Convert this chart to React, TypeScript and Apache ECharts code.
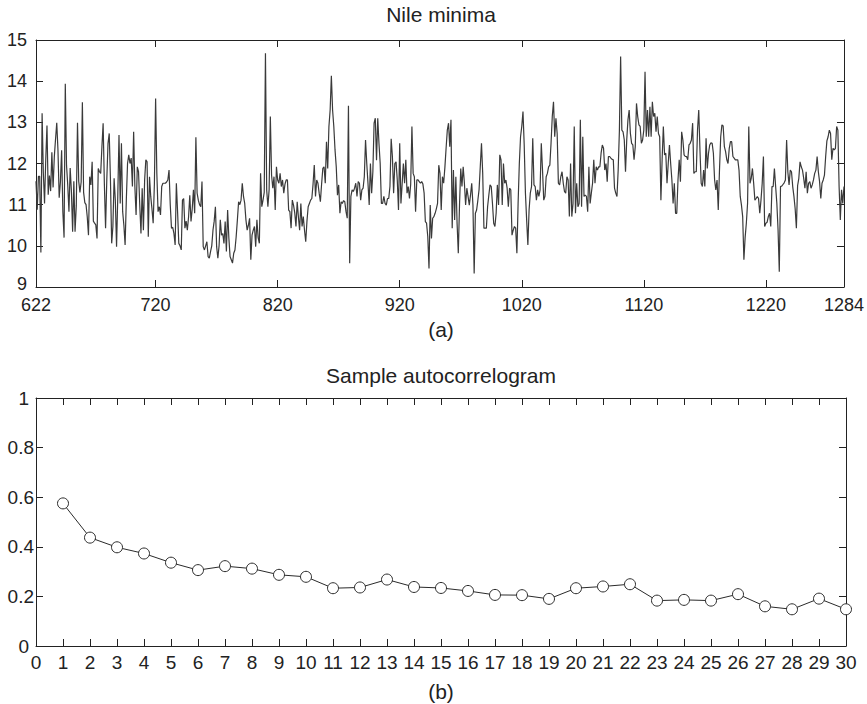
import React, { useEffect, useRef } from "react";
import * as echarts from "echarts";

const NILE_START = 622;
// Nile minima, one value per year from 622 to 1284 (rows of 10 years)
const nileMinima: number[] = [
  /* 622 */ 11.57, 10.88, 11.69, 11.69, 9.84, 13.22, 11.78, 11.03, 12.11, 12.92,
  /* 632 */ 11.24, 11.71, 11.33, 12.27, 11.42, 12.16, 12.59, 12.99, 12.32, 11.17,
  /* 642 */ 11.55, 12.32, 10.83, 10.2, 13.94, 11.96, 11.48, 10.83, 11.89, 11.33,
  /* 652 */ 10.34, 11.57, 10.34, 10.97, 12.99, 11.57, 11.3, 11.55, 13.49, 11.3,
  /* 662 */ 11.05, 11.0, 10.7, 10.26, 11.68, 11.48, 12.04, 10.6, 10.55, 10.51,
  /* 672 */ 10.18, 11.88, 11.8, 11.76, 12.4, 12.98, 11.52, 10.43, 11.6, 12.49,
  /* 682 */ 12.73, 11.6, 10.06, 10.47, 11.64, 11.1, 9.98, 11.2, 12.69, 11.03,
  /* 692 */ 12.49, 10.83, 10.5, 10.02, 11.11, 12.0, 12.21, 12.0, 12.13, 11.44,
  /* 702 */ 12.77, 11.44, 10.75, 11.92, 11.8, 11.0, 10.3, 11.4, 10.38, 11.6,
  /* 712 */ 12.09, 12.04, 10.22, 11.68, 11.2, 10.9, 10.55, 11.5, 13.58, 11.76,
  /* 722 */ 10.83, 10.95, 10.75, 11.44, 11.52, 11.52, 11.52, 11.55, 11.6, 11.84,
  /* 732 */ 11.0, 10.43, 10.45, 10.3, 10.02, 11.52, 10.83, 10.06, 10.0, 9.9,
  /* 742 */ 11.11, 11.15, 10.43, 10.6, 10.38, 10.7, 11.23, 10.59, 10.9, 11.36,
  /* 752 */ 10.79, 12.64, 11.28, 11.11, 11.0, 10.95, 11.56, 9.98, 9.9, 10.0,
  /* 762 */ 10.1, 9.74, 9.7, 9.86, 10.0, 10.38, 10.6, 10.95, 9.98, 9.7,
  /* 772 */ 10.0, 10.63, 10.26, 10.3, 10.06, 10.59, 9.86, 10.87, 10.2, 9.74,
  /* 782 */ 9.66, 9.58, 9.82, 9.9, 10.22, 10.63, 11.07, 11.0, 11.11, 11.52,
  /* 792 */ 11.2, 11.03, 10.63, 10.38, 10.5, 10.67, 9.66, 10.26, 10.38, 10.47,
  /* 802 */ 9.98, 10.63, 10.2, 10.06, 11.76, 10.95, 11.11, 11.3, 14.68, 11.36,
  /* 812 */ 10.95, 11.36, 13.14, 11.72, 11.4, 11.68, 10.87, 11.92, 11.6, 11.52,
  /* 822 */ 11.76, 11.44, 11.6, 11.28, 11.5, 11.6, 11.6, 10.87, 10.83, 10.43,
  /* 832 */ 11.11, 10.99, 10.8, 10.47, 11.07, 10.7, 10.38, 11.03, 10.47, 10.71,
  /* 842 */ 10.38, 10.1, 10.6, 10.95, 11.03, 11.11, 11.15, 11.5, 11.96, 11.2,
  /* 852 */ 11.6, 11.52, 11.28, 11.07, 11.5, 11.88, 11.92, 11.52, 12.53, 11.88,
  /* 862 */ 12.9, 13.3, 14.13, 13.3, 12.9, 12.33, 11.92, 11.23, 11.48, 10.79,
  /* 872 */ 11.07, 11.03, 11.1, 11.07, 10.83, 10.67, 13.4, 9.58, 11.2, 11.36,
  /* 882 */ 11.32, 11.4, 11.52, 11.2, 11.56, 11.52, 11.11, 11.36, 11.4, 11.68,
  /* 892 */ 12.57, 12.0, 11.52, 10.99, 12.0, 11.28, 11.8, 12.98, 13.1, 12.08,
  /* 902 */ 13.1, 12.49, 12.0, 11.03, 11.03, 11.2, 11.03, 10.99, 11.15, 11.15,
  /* 912 */ 11.44, 12.6, 12.17, 11.28, 12.0, 12.04, 11.6, 10.87, 12.49, 11.03,
  /* 922 */ 11.5, 12.0, 11.52, 12.09, 11.28, 11.44, 11.15, 11.5, 12.9, 11.76,
  /* 932 */ 11.68, 10.83, 11.6, 11.6, 11.56, 11.52, 11.56, 11.5, 11.28, 10.59,
  /* 942 */ 10.55, 10.22, 9.45, 10.99, 10.18, 10.67, 10.71, 10.79, 10.9, 11.03,
  /* 952 */ 11.96, 11.76, 10.87, 11.68, 11.52, 11.9, 12.37, 12.81, 12.98, 12.41,
  /* 962 */ 13.06, 10.43, 11.84, 10.63, 11.68, 10.55, 9.82, 10.99, 11.88, 11.44,
  /* 972 */ 11.92, 11.52, 10.99, 11.4, 11.2, 10.99, 11.23, 11.52, 10.99, 9.33,
  /* 982 */ 10.79, 10.87, 11.1, 11.36, 11.92, 12.49, 11.76, 10.43, 10.43, 10.43,
  /* 992 */ 10.95, 11.23, 11.48, 11.44, 11.03, 10.55, 10.47, 10.79, 11.48, 10.99,
  /* 1002 */ 12.21, 12.09, 10.99, 12.0, 11.52, 11.6, 11.4, 10.95, 11.4, 11.36,
  /* 1012 */ 10.26, 10.38, 10.47, 10.43, 9.82, 11.03, 12.0, 12.65, 12.9, 13.26,
  /* 1022 */ 12.45, 11.28, 10.63, 10.02, 10.87, 11.28, 11.44, 12.61, 11.48, 11.44,
  /* 1032 */ 11.11, 11.36, 11.2, 11.36, 12.49, 11.84, 11.11, 11.2, 11.68, 11.76,
  /* 1042 */ 11.92, 11.96, 12.5, 13.14, 13.5, 12.65, 13.1, 12.73, 11.52, 11.48,
  /* 1052 */ 11.68, 11.8, 11.52, 11.32, 11.28, 11.68, 11.6, 10.71, 12.0, 10.71,
  /* 1062 */ 11.03, 12.9, 10.79, 11.52, 10.95, 11.03, 13.06, 10.95, 12.65, 11.2,
  /* 1072 */ 11.23, 11.2, 10.83, 11.92, 11.03, 11.28, 11.52, 12.09, 11.52, 11.92,
  /* 1082 */ 11.84, 11.92, 11.92, 12.25, 12.45, 12.37, 11.84, 12.0, 11.56, 12.17,
  /* 1092 */ 12.17, 12.13, 12.1, 12.09, 11.4, 11.28, 11.2, 11.84, 12.81, 14.6,
  /* 1102 */ 12.81, 12.77, 12.57, 11.8, 12.57, 13.06, 13.3, 12.73, 12.49, 12.45,
  /* 1112 */ 12.09, 12.41, 13.46, 13.14, 12.94, 12.9, 12.49, 12.57, 12.81, 14.23,
  /* 1122 */ 12.65, 13.3, 12.65, 13.38, 12.65, 13.5, 13.14, 13.22, 12.77, 13.14,
  /* 1132 */ 12.73, 12.65, 11.11, 12.09, 12.9, 12.21, 12.25, 11.52, 12.0, 12.45,
  /* 1142 */ 12.0, 11.6, 11.03, 11.52, 10.79, 10.79, 11.6, 12.09, 11.56, 12.77,
  /* 1152 */ 12.57, 12.21, 12.17, 12.17, 12.09, 12.45, 12.49, 12.57, 12.98, 11.76,
  /* 1162 */ 11.8, 11.8, 12.81, 13.3, 12.33, 11.52, 11.44, 11.84, 11.44, 12.61,
  /* 1172 */ 11.88, 12.25, 12.45, 12.5, 12.49, 12.25, 11.6, 11.36, 11.6, 10.87,
  /* 1182 */ 11.84, 12.65, 12.94, 12.91, 12.41, 12.29, 12.09, 12.0, 12.37, 12.53,
  /* 1192 */ 12.53, 12.17, 12.13, 12.09, 12.09, 12.09, 11.84, 11.2, 10.99, 10.71,
  /* 1202 */ 9.66, 10.2, 10.55, 11.03, 12.9, 11.52, 11.64, 11.88, 11.52, 11.11,
  /* 1212 */ 11.15, 11.2, 11.15, 10.79, 11.11, 11.52, 12.17, 10.47, 10.55, 10.57,
  /* 1222 */ 10.71, 10.79, 10.47, 11.44, 11.44, 11.88, 11.44, 11.03, 10.38, 9.37,
  /* 1232 */ 11.44, 11.45, 11.49, 11.53, 11.6, 12.57, 11.8, 11.48, 11.84, 11.8,
  /* 1242 */ 11.44, 11.2, 10.9, 10.43, 11.46, 11.64, 12.04, 11.92, 11.84, 11.64,
  /* 1252 */ 11.4, 11.8, 11.28, 11.52, 11.56, 11.4, 11.48, 11.6, 11.76, 11.84,
  /* 1262 */ 12.17, 11.8, 11.56, 11.15, 11.52, 11.6, 11.72, 12.17, 12.55, 12.65,
  /* 1272 */ 12.81, 12.73, 12.09, 12.37, 12.33, 12.37, 12.9, 12.81, 11.44, 10.63,
  /* 1282 */ 11.36, 11.03, 11.44,
];
const nileTicks = [622, 720, 820, 920, 1020, 1120, 1220, 1284];

const acfLags = [
  1, 2, 3, 4, 5, 6, 7, 8, 9, 10, 11, 12, 13, 14, 15,
  16, 17, 18, 19, 20, 21, 22, 23, 24, 25, 26, 27, 28, 29, 30,
];
const acfValues = [
  0.575, 0.437, 0.398, 0.373, 0.336, 0.306, 0.322, 0.312, 0.287, 0.279,
  0.233, 0.236, 0.268, 0.238, 0.234, 0.222, 0.206, 0.205, 0.19, 0.233,
  0.24, 0.249, 0.183, 0.186, 0.183, 0.209, 0.16, 0.148, 0.191, 0.148,
];

const FONT = "'Liberation Sans', Arial, Helvetica, sans-serif";
const INK = "#222";
const FRAME = { color: "#222", width: 1 };

function frameAxes(
  grid: number,
  min: number,
  max: number,
  interval: number | undefined,
  custom: number[] | undefined,
  isX: boolean,
  labelMargin: number,
  fontSize: number,
  formatter?: any,
  rich?: any
) {
  const tick: any = { show: true, inside: true, length: 7, lineStyle: FRAME };
  const label: any = {
    show: true,
    fontSize,
    lineHeight: 14,
    fontFamily: FONT,
    color: INK,
    margin: labelMargin,
    formatter: formatter || ((v: number) => String(Math.round(v * 10) / 10)),
  };
  if (custom) {
    tick.customValues = custom;
    label.customValues = custom;
  }
  if (rich) label.rich = rich;
  const base: any = {
    gridIndex: grid,
    type: "value",
    min,
    max,
    axisLine: { show: true, onZero: false, lineStyle: FRAME },
    splitLine: { show: false },
  };
  if (interval !== undefined) base.interval = interval;
  const first = {
    ...base,
    position: isX ? "bottom" : "left",
    axisTick: tick,
    axisLabel: label,
  };
  const second = {
    ...base,
    position: isX ? "top" : "right",
    axisTick: { ...tick },
    axisLabel: { show: false },
  };
  return [first, second];
}

export default function App() {
  const ref = useRef<HTMLDivElement>(null);
  useEffect(() => {
    if (!ref.current) return;
    const chart = echarts.init(ref.current, null, { renderer: "svg" });
    const nileData = nileMinima.map((v, i) => [NILE_START + i, v]);
    const acfData = acfLags.map((lag, i) => [lag, acfValues[i]]);
    const acfYFormatter = (v: number) => {
      const r = Math.round(v * 10) / 10;
      return r === 0 || r === 1 ? `{p|${r}}` : String(r);
    };
    const nileYFormatter = (v: number) => {
      const r = Math.round(v);
      return r === 9 ? `{lo|${r}}` : String(r);
    };
    const titleText = (text: string, y: number) => ({
      type: "text",
      x: 441,
      y,
      style: {
        text,
        font: `21px ${FONT}`,
        fill: INK,
        textAlign: "center",
        align: "center",
        textVerticalAlign: "middle",
        verticalAlign: "middle",
      },
    });
    chart.setOption({
      animation: false,
      backgroundColor: "#ffffff",
      grid: [
        { left: 36, top: 40, width: 810, height: 247 },
        { left: 36, top: 398, width: 810, height: 248 },
      ],
      xAxis: [
        ...frameAxes(0, 622, 1284, undefined, nileTicks, true, 11, 18),
        ...frameAxes(1, 0, 30, 1, undefined, true, 9, 19),
      ],
      yAxis: [
        ...frameAxes(0, 9, 15, 1, undefined, false, 9, 18, nileYFormatter, {
          lo: {
            padding: [0, 0, 6, 0],
            fontSize: 18,
            lineHeight: 14,
            fontFamily: FONT,
            color: INK,
          },
        }),
        ...frameAxes(1, 0, 1, 0.2, undefined, false, 2, 19, acfYFormatter, {
          p: {
            padding: [0, 5, 0, 0],
            fontSize: 19,
            lineHeight: 14,
            fontFamily: FONT,
            color: INK,
          },
        }),
      ],
      series: [
        {
          type: "line",
          xAxisIndex: 0,
          yAxisIndex: 0,
          data: nileData,
          symbol: "none",
          showSymbol: false,
          lineStyle: { color: "#3a3a3a", width: 1.2 },
          emphasis: { disabled: true },
        },
        {
          type: "line",
          xAxisIndex: 2,
          yAxisIndex: 2,
          data: acfData,
          symbol: "circle",
          symbolSize: 11,
          itemStyle: { color: "#ffffff", borderColor: "#2a2a2a", borderWidth: 1 },
          lineStyle: { color: "#2a2a2a", width: 1 },
          emphasis: { disabled: true },
        },
      ],
      graphic: [
        titleText("Nile minima", 14),
        titleText("(a)", 329),
        titleText("Sample autocorrelogram", 375),
        titleText("(b)", 691),
      ],
    });
    return () => chart.dispose();
  }, []);
  return (
    <div
      ref={ref}
      style={{ position: "absolute", left: 0, top: 0, width: 867, height: 704 }}
    />
  );
}
